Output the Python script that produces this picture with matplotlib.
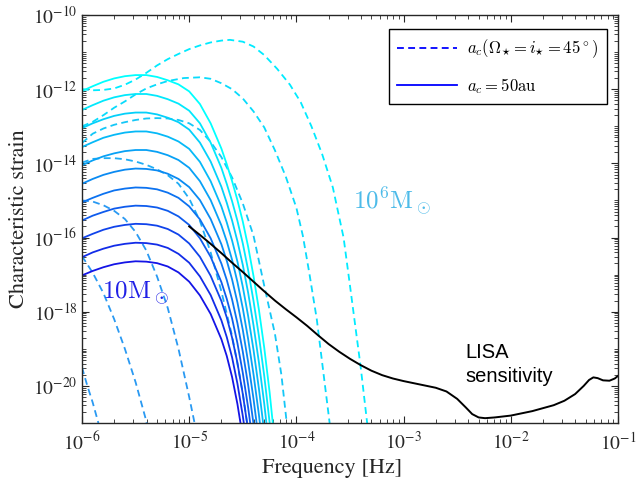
import numpy as np
import matplotlib
matplotlib.use('Agg')
import matplotlib.pyplot as plt
from matplotlib.lines import Line2D
from matplotlib.ticker import LogLocator, NullFormatter

plt.rcParams['font.family'] = 'STIXGeneral'
plt.rcParams['mathtext.fontset'] = 'stix'

# log10 frequency grid shared by the solid (a_c = 50 au) curves
logf_solid = [-6.0, -5.9, -5.8, -5.7, -5.6, -5.5, -5.4, -5.3, -5.2, -5.1, -5.0, -4.9,
              -4.8, -4.7, -4.65, -4.6, -4.55, -4.5, -4.45, -4.4, -4.35, -4.3, -4.25, -4.2]

# log10 characteristic strain, one list per mass (log10 M = 1.0 ... 6.0)
sol_m10 = [-17.02, -16.90, -16.80, -16.72, -16.67, -16.64, -16.65, -16.69, -16.78, -16.94, -17.19,
           -17.56, -18.06, -18.74, -19.19, -19.76, -20.49, -21.39]
sol_m15 = [-16.53, -16.40, -16.30, -16.22, -16.17, -16.14, -16.15, -16.19, -16.28, -16.44, -16.68,
           -17.05, -17.55, -18.23, -18.68, -19.23, -19.94, -20.81, -21.82]
sol_m20 = [-16.02, -15.90, -15.79, -15.71, -15.66, -15.63, -15.64, -15.68, -15.77, -15.92, -16.16,
           -16.52, -17.03, -17.71, -18.15, -18.70, -19.38, -20.22, -21.20]
sol_m25 = [-15.54, -15.41, -15.31, -15.22, -15.17, -15.14, -15.15, -15.19, -15.28, -15.43, -15.66,
           -16.02, -16.52, -17.20, -17.65, -18.18, -18.85, -19.65, -20.59, -21.67]
sol_m30 = [-15.05, -14.93, -14.82, -14.73, -14.68, -14.65, -14.66, -14.70, -14.79, -14.93, -15.16,
           -15.51, -16.02, -16.70, -17.14, -17.67, -18.31, -19.08, -19.98, -21.02, -22.19]
sol_m35 = [-14.55, -14.42, -14.31, -14.23, -14.17, -14.14, -14.15, -14.19, -14.28, -14.42, -14.64,
           -14.99, -15.50, -16.18, -16.62, -17.13, -17.75, -18.49, -19.36, -20.35, -21.48]
sol_m40 = [-14.05, -13.92, -13.81, -13.73, -13.67, -13.64, -13.64, -13.69, -13.78, -13.91, -14.12,
           -14.48, -14.99, -15.67, -16.10, -16.60, -17.20, -17.91, -18.74, -19.69, -20.77, -21.99]
sol_m45 = [-13.56, -13.43, -13.31, -13.23, -13.17, -13.14, -13.14, -13.19, -13.28, -13.41, -13.61,
           -13.96, -14.48, -15.16, -15.59, -16.08, -16.65, -17.33, -18.12, -19.03, -20.07, -21.24]
sol_m50 = [-13.05, -12.92, -12.81, -12.72, -12.66, -12.63, -12.63, -12.68, -12.77, -12.89, -13.09,
           -13.44, -13.95, -14.63, -15.06, -15.54, -16.10, -16.74, -17.49, -18.37, -19.36, -20.48, -21.77]
sol_m55 = [-12.56, -12.43, -12.31, -12.22, -12.16, -12.13, -12.13, -12.18, -12.27, -12.39, -12.58,
           -12.92, -13.44, -14.12, -14.55, -15.02, -15.55, -16.16, -16.88, -17.71, -18.65, -19.73,
           -20.98, -22.42]
sol_m60 = [-12.05, -11.92, -11.80, -11.71, -11.65, -11.62, -11.62, -11.67, -11.76, -11.87, -12.06,
           -12.40, -12.92, -13.60, -14.02, -14.48, -14.99, -15.57, -16.25, -17.04, -17.94, -18.97,
           -20.17, -21.57]

# dashed curves (a_c for Omega = i = 45 deg): log10 f, log10 h
dsh1_f = [-6.0, -5.9, -5.8, -5.7, -5.6, -5.5, -5.4, -5.3, -5.2, -5.1, -5.0, -4.9, -4.8, -4.7, -4.62,
          -4.5, -4.4, -4.3, -4.18, -4.06, -3.96, -3.86, -3.76, -3.66, -3.56, -3.5, -3.45, -3.4, -3.34, -3.31]
dsh1_h = [-12.0, -12.03, -12.02, -11.98, -11.88, -11.74, -11.56, -11.36, -11.19, -11.05, -10.92, -10.82,
          -10.74, -10.69, -10.67, -10.72, -10.85, -11.08, -11.45, -11.88, -12.35, -13.0, -13.75, -14.65,
          -16.0, -17.3, -18.4, -19.5, -21.0, -21.8]
dsh2_f = [-6.0, -5.9, -5.8, -5.7, -5.6, -5.5, -5.4, -5.3, -5.2, -5.05, -4.9, -4.8, -4.7, -4.6, -4.5,
          -4.4, -4.3, -4.2, -4.1, -4.0, -3.94, -3.88, -3.81, -3.75, -3.69, -3.67]
dsh2_h = [-13.0, -12.88, -12.7, -12.5, -12.33, -12.14, -11.98, -11.87, -11.78, -11.70, -11.68, -11.72,
          -11.84, -12.0, -12.25, -12.6, -13.03, -13.65, -14.35, -15.2, -15.95, -16.95, -18.2, -19.6, -21.0, -21.6]
dsh3_f = [-6.0, -5.9, -5.8, -5.7, -5.6, -5.5, -5.4, -5.3, -5.2, -5.1, -5.0, -4.9, -4.8, -4.7, -4.6,
          -4.5, -4.4, -4.3, -4.2, -4.14, -4.09, -4.07]
dsh3_h = [-13.45, -13.2, -13.06, -12.96, -12.89, -12.83, -12.79, -12.78, -12.79, -12.83, -12.92, -13.1,
          -13.42, -13.83, -14.38, -15.08, -15.95, -17.3, -18.6, -19.7, -21.0, -21.5]
dsh4_f = [-6.0, -5.9, -5.8, -5.7, -5.6, -5.5, -5.4, -5.3, -5.2, -5.1, -5.0, -4.9, -4.8, -4.7, -4.6,
          -4.55, -4.5, -4.46, -4.44]
dsh4_h = [-13.98, -13.88, -13.86, -13.86, -13.89, -13.95, -14.04, -14.16, -14.32, -14.55, -14.95, -15.55,
          -16.4, -17.45, -18.65, -19.4, -20.2, -21.0, -21.5]
dsh5_f = [-6.0, -5.9, -5.8, -5.7, -5.6, -5.5, -5.4, -5.3, -5.2, -5.1, -5.0, -4.95, -4.93]
dsh5_h = [-15.0, -15.03, -15.13, -15.28, -15.5, -15.85, -16.35, -17.05, -17.9, -19.0, -20.3, -21.0, -21.4]
dsh6_f = [-6.0, -5.9, -5.8, -5.7, -5.6, -5.5, -5.4, -5.38]
dsh6_h = [-16.5, -16.95, -17.5, -18.2, -19.0, -19.9, -20.95, -21.4]
dsh7_f = [-6.0, -5.95, -5.9, -5.85, -5.83]
dsh7_h = [-19.5, -20.0, -20.45, -20.97, -21.3]

# LISA sensitivity curve
lisa_f = [-5.0, -4.9, -4.8, -4.7, -4.6, -4.5, -4.4, -4.3, -4.2, -4.1, -4.0, -3.9, -3.8, -3.7, -3.6,
          -3.5, -3.4, -3.3, -3.2, -3.1, -3.0, -2.9, -2.8, -2.7, -2.6, -2.5, -2.42, -2.36, -2.3, -2.24,
          -2.15, -2.0, -1.8, -1.6, -1.5, -1.4, -1.32, -1.27, -1.23, -1.19, -1.14, -1.08, -1.03, -1.0]
lisa_h = [-15.70, -15.93, -16.17, -16.42, -16.68, -16.93, -17.19, -17.45, -17.70, -17.93, -18.15, -18.38,
          -18.63, -18.87, -19.08, -19.27, -19.44, -19.59, -19.71, -19.80, -19.87, -19.93, -19.99, -20.05,
          -20.15, -20.35, -20.58, -20.76, -20.85, -20.87, -20.85, -20.80, -20.68, -20.52, -20.40, -20.22,
          -20.00, -19.84, -19.77, -19.79, -19.85, -19.86, -19.80, -19.73]

solid_curves = [sol_m10, sol_m15, sol_m20, sol_m25, sol_m30, sol_m35,
                sol_m40, sol_m45, sol_m50, sol_m55, sol_m60]
dashed_curves = [(dsh7_f, dsh7_h), (dsh6_f, dsh6_h), (dsh5_f, dsh5_h), (dsh4_f, dsh4_h),
                 (dsh3_f, dsh3_h), (dsh2_f, dsh2_h), (dsh1_f, dsh1_h)]
dashed_colors = [(0.16, 0.6, 0.95), (0.16, 0.6, 0.95), (0.16, 0.6, 0.95), (0.12, 0.68, 0.96),
                 (0.08, 0.78, 0.97), (0.03, 0.86, 0.99), (0.0, 0.92, 1.0)]
dash = (0, (3.8, 2.4))

fig = plt.figure(figsize=(6.36, 4.87), dpi=100)
ax = fig.add_axes([82 / 636, 64 / 487, 536 / 636, 408 / 487])

for (lf, lh), c in zip(dashed_curves, dashed_colors):
    ax.plot(np.power(10.0, lf), np.power(10.0, lh), ls=dash, color=c, lw=1.3)

n = len(solid_curves)
for k, lh in enumerate(solid_curves):
    t = k / (n - 1)
    col = (0.08 * (1 - t), 0.08 + 0.92 * t, 0.9 + 0.1 * t)
    ax.plot(np.power(10.0, logf_solid[:len(lh)]), np.power(10.0, lh), color=col, lw=1.3)

ax.plot(np.power(10.0, lisa_f), np.power(10.0, lisa_h), color='black', lw=1.4)

ax.set_xscale('log')
ax.set_yscale('log')
ax.set_xlim(1e-6, 1e-1)
ax.set_ylim(1e-21, 1e-10)
ax.set_yticks([10.0 ** e for e in range(-20, -9, 2)])
ax.yaxis.set_minor_locator(LogLocator(base=10, subs=np.arange(1, 10), numticks=50))
ax.yaxis.set_minor_formatter(NullFormatter())
ax.set_xticks([10.0 ** e for e in range(-6, 0)])
ax.xaxis.set_minor_locator(LogLocator(base=10, subs=np.arange(2, 10), numticks=50))
ax.xaxis.set_minor_formatter(NullFormatter())

ax.tick_params(which='both', direction='in', top=True, right=True, colors='#262626',
               labelsize=14)
ax.tick_params(which='major', length=5, width=0.8, pad=6)
ax.tick_params(which='minor', length=2.8, width=0.6)
ax.tick_params(axis='y', which='major', pad=3)
for s in ax.spines.values():
    s.set_color('#262626')
    s.set_linewidth(1.0)

ax.set_xlabel('Frequency [Hz]', fontsize=16, color='#262626')
ax.set_ylabel('Characteristic strain', fontsize=16, color='#262626')
ax.xaxis.set_label_coords(0.466, -0.086)
ax.yaxis.set_label_coords(-0.098, 0.5)

handles = [Line2D([], [], color='blue', ls=dash, lw=1.3),
           Line2D([], [], color='blue', lw=1.3)]
labels = [r'$a_c(\Omega_{\star} = i_{\star} = 45^\circ)$', r'$a_c = 50\mathrm{au}$']
leg = ax.legend(handles, labels, loc='upper right', bbox_to_anchor=(0.979, 0.965),
                borderaxespad=0, fontsize=12, handlelength=3.6, handletextpad=0.6,
                borderpad=0.5, labelspacing=0.95, fancybox=False, edgecolor='black',
                framealpha=1)
leg.get_frame().set_linewidth(1.0)
for t in leg.get_texts():
    t.set_math_fontfamily('cm')

ax.text(3.37e-4, 10 ** -15.25, r'$10^6\mathrm{M}_\odot$', color='#4dbbe9', fontsize=18,
        math_fontfamily='cm', ha='left', va='baseline')
ax.text(1.53e-6, 10 ** -17.67, r'$10\mathrm{M}_\odot$', color='#2020e6', fontsize=18,
        math_fontfamily='cm', ha='left', va='baseline')
ax.text(3.79e-3, 10 ** -19.236, 'LISA', family='Liberation Sans', fontsize=14.5,
        ha='left', va='baseline')
ax.text(3.79e-3, 10 ** -19.892, 'sensitivity', family='Liberation Sans', fontsize=14.5,
        ha='left', va='baseline')

fig.savefig('out.png', dpi=100)
